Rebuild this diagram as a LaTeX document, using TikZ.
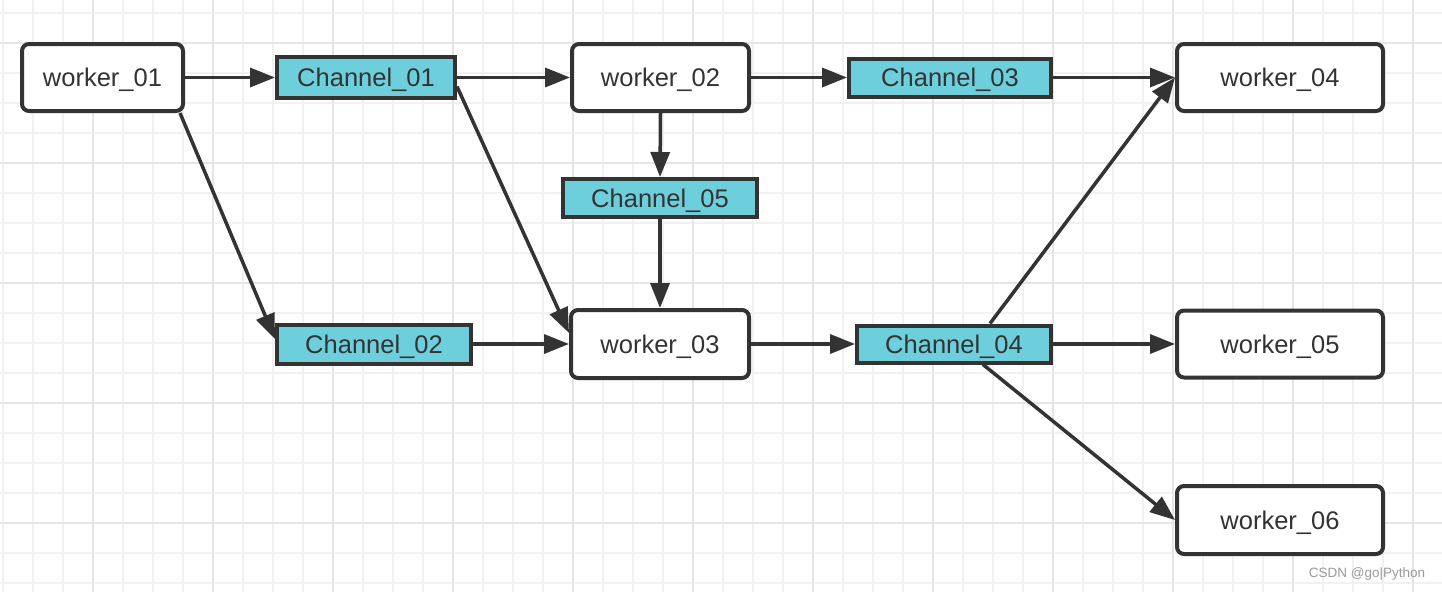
\documentclass[tikz,border=0pt]{standalone}
\usepackage{fontspec}
\setmainfont{Liberation Sans}
\usetikzlibrary{arrows.meta,calc}
\definecolor{ink}{HTML}{333333}
\definecolor{chfill}{HTML}{6DCFDC}
\definecolor{gridminor}{HTML}{F1F1F1}
\definecolor{gridmajor}{HTML}{E5E5E5}
\definecolor{wm}{HTML}{9A9A9A}
\begin{document}
\begin{tikzpicture}[x=1pt,y=-1pt,
  worker/.style={draw=ink, line width=4pt, rounded corners=7pt, fill=white,
    minimum width=206pt, minimum height=67pt, inner sep=0pt, text=ink,
    text height=18pt, text depth=0pt,
    font=\fontsize{25.5}{30}\selectfont},
  chan/.style={draw=ink, line width=4pt, fill=chfill, minimum height=38pt,
    inner sep=0pt, text=ink, text height=18pt, text depth=0pt,
    font=\fontsize{25.5}{30}\selectfont},
  arr/.style={draw=ink, line width=3.5pt, -{Triangle[length=25pt,width=19pt]}},
  minorline/.style={draw=gridminor, line width=1.6pt},
  majorline/.style={draw=gridmajor, line width=2pt}]
\useasboundingbox (0,0) rectangle (1442,592);
\fill[white] (0,0) rectangle (1442,592);
% grid
\foreach \i in {0,...,48} \draw[minorline] ({2.7+30*\i},0) -- ({2.7+30*\i},592);
\foreach \j in {0,...,19} \draw[minorline] (0,{12.7+30*\j}) -- (1442,{12.7+30*\j});
\foreach \i in {0,...,11} \draw[majorline] ({92.7+120*\i},0) -- ({92.7+120*\i},592);
\foreach \j in {0,...,4} \draw[majorline] (0,{42.7+120*\j}) -- (1442,{42.7+120*\j});

% nodes
\node[worker, minimum width=161pt] (w1) at (102.5,77.5) {worker\_01};
\node[chan, minimum width=178pt, minimum height=41pt] (c1) at (366,77.5) {Channel\_01};
\node[worker, minimum width=177pt] (w2) at (660.5,77.5) {worker\_02};
\node[chan, minimum width=202pt] (c3) at (950,77.5) {Channel\_03};
\node[worker] (w4) at (1280,77.5) {worker\_04};
\node[chan, minimum width=194pt] (c5) at (660,198) {Channel\_05};
\node[worker, minimum width=178pt, minimum height=68pt] (w3) at (660,344) {worker\_03};
\node[chan, minimum width=194pt, minimum height=39pt] (c2) at (374,344) {Channel\_02};
\node[chan, minimum width=194pt, minimum height=37pt] (c4) at (954,344) {Channel\_04};
\node[worker] (w5) at (1280,344) {worker\_05};
\node[worker, minimum height=68pt] (w6) at (1280,520) {worker\_06};

% connectors
\draw[arr] (w1.east) -- (c1.west);
\draw[arr] ($(w1.south east)+(-5,0)$) -- ($(c2.west)+(0,-5)$);
\draw[arr] (c1.east) -- (w2.west);
\draw[arr] ($(c1.east)+(0,9)$) -- ($(w3.west)+(0,-11)$);
\draw[arr] (w2.east) -- (c3.west);
\draw[arr] (w2.south) -- (c5.north);
\draw[arr] (c5.south) -- (w3.north);
\draw[arr] (c3.east) -- (w4.west);
\draw[arr] (c2.east) -- (w3.west);
\draw[arr] (w3.east) -- (c4.west);
\draw[arr] ($(c4.north)+(36,0)$) -- (w4.west);
\draw[arr] (c4.east) -- (w5.west);
\draw[arr] ($(c4.south)+(29,0)$) -- (w6.west);

% watermark
\node[text=wm, font=\fontsize{13.5}{16}\selectfont, inner sep=0pt] (wmk) at (1367,574) {CSDN @go|Python};
\end{tikzpicture}
\end{document}
